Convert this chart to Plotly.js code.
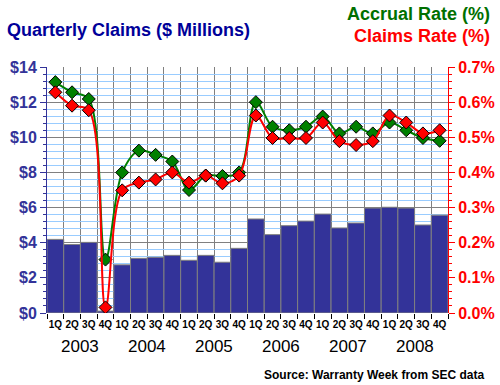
<!DOCTYPE html>
<html>
<head>
<meta charset="utf-8">
<script src="https://cdn.plot.ly/plotly-3.0.1.min.js"></script>
<style>html,body{margin:0;padding:0;background:#fff;}#chart{width:500px;height:385px;}</style>
</head>
<body>
<div id="chart"></div>
<script>
const quarters = ["1Q","2Q","3Q","4Q","1Q","2Q","3Q","4Q","1Q","2Q","3Q","4Q","1Q","2Q","3Q","4Q","1Q","2Q","3Q","4Q","1Q","2Q","3Q","4Q"];
const years = ["2003","2004","2005","2006","2007","2008"];
const claims = [4.19,3.90,4.02,0.11,2.74,3.11,3.17,3.28,3.00,3.28,2.89,3.68,5.35,4.46,4.97,5.23,5.63,4.84,5.12,5.97,6.02,5.97,5.01,5.57];
const accrualRate = [0.657,0.628,0.609,0.152,0.400,0.462,0.450,0.431,0.350,0.391,0.390,0.400,0.600,0.530,0.520,0.530,0.559,0.511,0.530,0.511,0.542,0.520,0.498,0.490];
const claimsRate = [0.628,0.590,0.577,0.016,0.349,0.371,0.380,0.400,0.371,0.391,0.369,0.391,0.562,0.498,0.498,0.498,0.542,0.489,0.478,0.489,0.562,0.542,0.511,0.520];

const xs = quarters.map((q,i)=>i);
const font = "Liberation Sans, Arial, sans-serif";

const traces = [
  {type:'bar', x:xs, y:claims, yaxis:'y', marker:{color:'#333399', line:{color:'#808080', width:1}}, hoverinfo:'skip'},
  {type:'scatter', mode:'lines+markers', x:xs, y:accrualRate, yaxis:'y2',
   line:{color:'#008000', width:2, shape:'spline', smoothing:1},
   marker:{symbol:'diamond', size:10, color:'#008000', line:{color:'#000', width:1}}},
  {type:'scatter', mode:'lines+markers', x:xs, y:claimsRate, yaxis:'y2',
   line:{color:'#FF0000', width:2, shape:'spline', smoothing:1},
   marker:{symbol:'diamond', size:10, color:'#FF0000', line:{color:'#000', width:1}}}
];

const annotations = years.map((y,k)=>({
  x: 1.5 + 4*k, xref:'x', y:0, yref:'paper', yshift:-22, yanchor:'top', xanchor:'center',
  text:y, showarrow:false, font:{family:font, size:17, color:'#000'}
}));
annotations.push(
  {x:-0.105, xref:'paper', y:1.15, yref:'paper', xanchor:'left', yanchor:'middle', text:'<b>Quarterly Claims ($ Millions)</b>', showarrow:false, font:{family:font, size:18, color:'#000099'}},
  {x:1.11, xref:'paper', y:1.215, yref:'paper', xanchor:'right', yanchor:'middle', text:'<b>Accrual Rate (%)</b>', showarrow:false, font:{family:font, size:18, color:'#007000'}},
  {x:1.11, xref:'paper', y:1.126, yref:'paper', xanchor:'right', yanchor:'middle', text:'<b>Claims Rate (%)</b>', showarrow:false, font:{family:font, size:18, color:'#FF0000'}},
  {x:1.095, xref:'paper', y:-0.252, yref:'paper', xanchor:'right', yanchor:'middle', text:'<b>Source: Warranty Week from SEC data</b>', showarrow:false, font:{family:font, size:12, color:'#000'}}
);

const layout = {
  width:500, height:385,
  margin:{l:47, r:52, t:67, b:72},
  paper_bgcolor:'#fff', plot_bgcolor:'#fff',
  showlegend:false, bargap:0,
  font:{family:font},
  xaxis:{range:[-0.5,23.5], tickvals:xs, ticktext:quarters, tickangle:0, ticks:'', showgrid:false, zeroline:false,
         tickfont:{family:font, size:10, color:'#000', weight:'bold'}, ticklabelstandoff:4,
         showline:false,
         minor:{tickvals:xs.map(v=>v-0.5).concat([23.5]), ticks:'outside', ticklen:5, tickcolor:'#000', showgrid:true, gridcolor:'#808080', gridwidth:1}},
  yaxis:{range:[0,14], dtick:2, tickprefix:'$', showline:true, linecolor:'#333399', linewidth:1,
         ticks:'outside', ticklen:6, tickcolor:'#333399', gridcolor:'#808080', gridwidth:1, zeroline:false,
         tickfont:{family:font, size:16, color:'#333399', weight:'bold'},
         minor:{dtick:0.4, ticks:'outside', ticklen:3, tickcolor:'#333399', showgrid:true, gridcolor:'#99CCFF', gridwidth:1}},
  yaxis2:{range:[0,0.7], dtick:0.1, tickformat:'.1f', ticksuffix:'%', overlaying:'y', side:'right',
          showline:true, linecolor:'#FF0000', linewidth:1, ticks:'outside', ticklen:6, tickcolor:'#FF0000',
          showgrid:false, zeroline:false,
          tickfont:{family:font, size:16, color:'#FF0000', weight:'bold'},
          minor:{dtick:0.02, ticks:'outside', ticklen:3, tickcolor:'#FF0000', showgrid:false}},
  annotations:annotations
};

Plotly.newPlot('chart', traces, layout, {displayModeBar:false, staticPlot:true});
</script>
</body>
</html>
